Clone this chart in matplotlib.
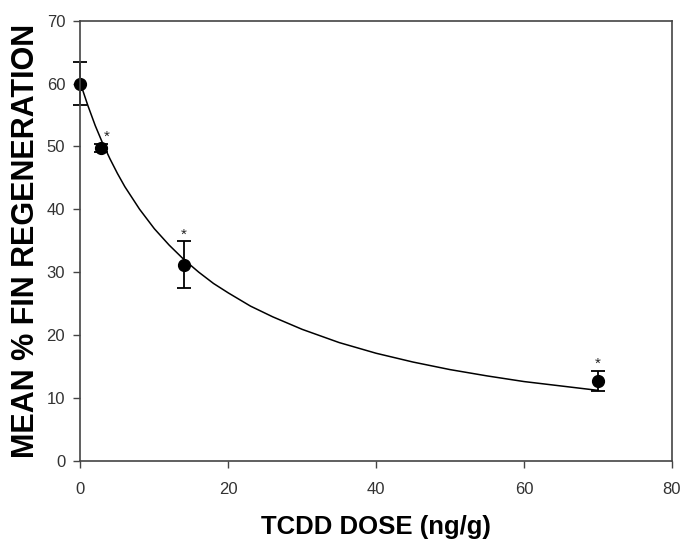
import matplotlib
matplotlib.use("Agg")
import matplotlib.pyplot as plt

# measured points
dose = [0, 2.8, 14, 70]
regen = [60.0, 49.7, 31.2, 12.7]
sem = [3.4, 0.65, 3.7, 1.55]
signif = [False, True, True, True]

# fitted curve
curve_x = [0, 1, 2, 3, 4, 5, 6, 8, 10, 12, 14, 16, 18, 20, 23, 26, 30,
           35, 40, 45, 50, 55, 60, 65, 70]
curve_y = [60.0, 56.5, 53.3, 50.5, 48.0, 45.7, 43.6, 40.0, 36.9, 34.3, 32.0,
           30.0, 28.2, 26.7, 24.6, 22.9, 20.9, 18.8, 17.1, 15.7, 14.5, 13.5,
           12.6, 11.9, 11.2]

plt.rcParams['font.family'] = ['Liberation Sans', 'DejaVu Sans']

fig = plt.figure(figsize=(6.82, 5.44), dpi=100)
ax = fig.add_axes([0.118, 0.153, 0.867, 0.809])

ax.plot(curve_x, curve_y, color='black', lw=1.1)
eb = ax.errorbar(dose, regen, yerr=sem, fmt='o', color='black', ms=8.5,
                 capsize=5, elinewidth=1.3, capthick=1.3)
for art in eb.lines[0:1] + tuple(eb.lines[1]) + tuple(eb.lines[2]):
    art.set_clip_on(False)

for x, y, e, s in zip(dose, regen, sem, signif):
    if s:
        dx = 4 if e < 1 else 0
        ax.annotate('*', (x, y + e), xytext=(dx, 5), textcoords='offset points',
                    ha='center', va='center', fontsize=11, color='#222222')

ax.set_xlim(0, 80)
ax.set_ylim(0, 70)
ax.set_xticks([0, 20, 40, 60, 80])
ax.set_yticks(range(0, 71, 10))
ax.tick_params(direction='out', length=5, width=1, labelsize=12,
               labelcolor='#333333', color='#444444')
ax.tick_params(axis='y', pad=6)
ax.tick_params(axis='x', pad=10)
for sp in ax.spines.values():
    sp.set_linewidth(1.2)
    sp.set_color('#444444')

ax.set_xlabel('TCDD DOSE (ng/g)', fontsize=18.5, fontweight='bold', labelpad=13)
ax.set_ylabel('MEAN % FIN REGENERATION', fontsize=22, fontweight='bold', labelpad=4)

fig.savefig('out.png', dpi=100)
